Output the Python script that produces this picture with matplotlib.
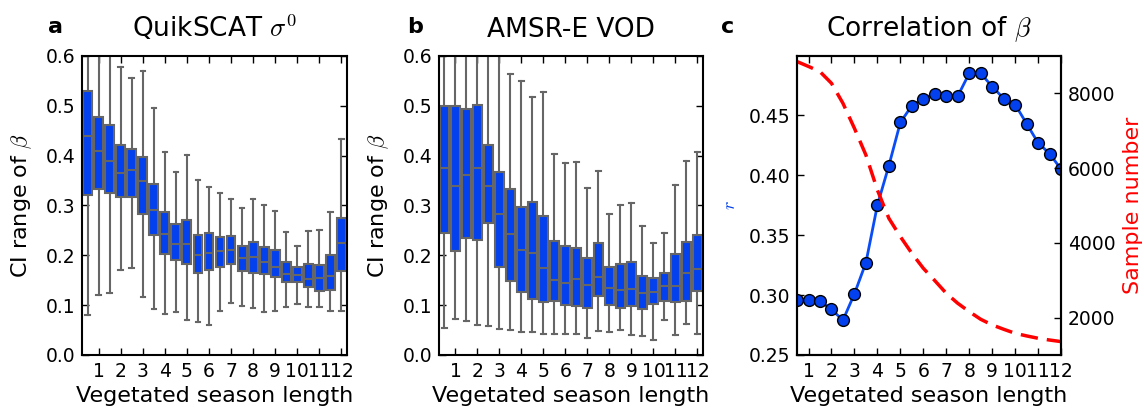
import matplotlib
matplotlib.use("Agg")
import matplotlib.pyplot as plt

# -------------------------
# DATA
# -------------------------
season_len = [0.5, 1.0, 1.5, 2.0, 2.5, 3.0, 3.5, 4.0, 4.5, 5.0, 5.5, 6.0,
              6.5, 7.0, 7.5, 8.0, 8.5, 9.0, 9.5, 10.0, 10.5, 11.0, 11.5, 12.0]
tick_pos = [1, 2, 3, 4, 5, 6, 7, 8, 9, 10, 11, 12]
tick_labels = ["1", "2", "3", "4", "5", "6", "7", "8", "9", "10", "11", "12"]

# panel a: QuikSCAT sigma0 CI range of beta
qs_lo = [0.080, 0.120, 0.125, 0.170, 0.175, 0.117, 0.093, 0.083, 0.087, 0.070, 0.067, 0.060,
         0.088, 0.105, 0.099, 0.094, 0.086, 0.088, 0.097, 0.102, 0.096, 0.097, 0.088, 0.088]
qs_q1 = [0.322, 0.333, 0.325, 0.318, 0.318, 0.282, 0.240, 0.203, 0.191, 0.182, 0.165, 0.170,
         0.177, 0.183, 0.169, 0.165, 0.162, 0.156, 0.147, 0.146, 0.136, 0.129, 0.131, 0.168]
qs_med = [0.440, 0.410, 0.390, 0.366, 0.372, 0.349, 0.290, 0.243, 0.222, 0.223, 0.200, 0.205,
          0.208, 0.210, 0.195, 0.196, 0.186, 0.176, 0.163, 0.160, 0.152, 0.154, 0.158, 0.225]
qs_q3 = [0.530, 0.478, 0.462, 0.422, 0.414, 0.398, 0.343, 0.287, 0.262, 0.271, 0.241, 0.244,
         0.236, 0.238, 0.219, 0.226, 0.217, 0.211, 0.187, 0.176, 0.183, 0.180, 0.201, 0.275]
qs_hi = [0.750, 0.680, 0.650, 0.577, 0.555, 0.570, 0.495, 0.408, 0.368, 0.402, 0.352, 0.338,
         0.325, 0.312, 0.294, 0.312, 0.300, 0.288, 0.246, 0.218, 0.248, 0.250, 0.287, 0.433]

# panel b: AMSR-E VOD CI range of beta
vod_lo = [0.055, 0.073, 0.068, 0.061, 0.059, 0.053, 0.050, 0.046, 0.047, 0.042, 0.042, 0.042,
          0.042, 0.034, 0.048, 0.047, 0.050, 0.040, 0.039, 0.031, 0.070, 0.040, 0.062, 0.043]
vod_q1 = [0.245, 0.208, 0.235, 0.230, 0.265, 0.176, 0.148, 0.127, 0.113, 0.106, 0.108, 0.101,
          0.099, 0.095, 0.118, 0.100, 0.094, 0.098, 0.093, 0.102, 0.108, 0.106, 0.108, 0.128]
vod_med = [0.376, 0.340, 0.362, 0.376, 0.340, 0.282, 0.242, 0.210, 0.204, 0.174, 0.150, 0.145,
           0.153, 0.141, 0.156, 0.135, 0.130, 0.132, 0.124, 0.126, 0.139, 0.138, 0.164, 0.172]
vod_q3 = [0.500, 0.500, 0.493, 0.502, 0.422, 0.368, 0.333, 0.297, 0.306, 0.278, 0.229, 0.218,
          0.215, 0.194, 0.224, 0.176, 0.182, 0.186, 0.159, 0.154, 0.164, 0.202, 0.226, 0.240]
vod_hi = [0.700, 0.680, 0.660, 0.680, 0.650, 0.620, 0.563, 0.550, 0.518, 0.527, 0.403, 0.385,
          0.387, 0.335, 0.370, 0.283, 0.300, 0.305, 0.258, 0.224, 0.244, 0.342, 0.390, 0.407]

# panel c: correlation r and sample number
corr_r = [0.296, 0.296, 0.295, 0.288, 0.279, 0.301, 0.327, 0.375, 0.408, 0.444, 0.458, 0.464,
          0.468, 0.466, 0.466, 0.485, 0.485, 0.474, 0.464, 0.459, 0.443, 0.427, 0.418, 0.405]
sample_n = [8850, 8720, 8580, 8270, 7734, 7065, 6350, 5415, 4657, 4167, 3721, 3320,
            2990, 2650, 2383, 2160, 1955, 1804, 1688, 1580, 1510, 1447, 1400, 1358]

BLUE = "#0341ee"
LINE_BLUE = "#0a4cf5"
GREY = "#666666"

plt.rcParams["font.family"] = "DejaVu Sans"
plt.rcParams["mathtext.fontset"] = "cm"
plt.rcParams["xtick.direction"] = "in"
plt.rcParams["ytick.direction"] = "in"
plt.rcParams["xtick.top"] = True
plt.rcParams["ytick.right"] = True
plt.rcParams["xtick.major.size"] = 5
plt.rcParams["ytick.major.size"] = 5
plt.rcParams["xtick.major.width"] = 1.0
plt.rcParams["ytick.major.width"] = 1.0
plt.rcParams["xtick.major.pad"] = 5
plt.rcParams["ytick.major.pad"] = 5
plt.rcParams["xtick.labelsize"] = 13.5
plt.rcParams["ytick.labelsize"] = 13.5
plt.rcParams["axes.linewidth"] = 1.5


def box_panel(ax, lo, q1, med, q3, hi, title):
    stats = []
    for i in range(len(season_len)):
        stats.append(dict(whislo=lo[i], q1=q1[i], med=med[i], q3=q3[i],
                          whishi=hi[i], fliers=[]))
    ax.bxp(stats, positions=season_len, widths=0.4, patch_artist=True,
           showfliers=False, manage_ticks=False,
           boxprops=dict(facecolor=BLUE, edgecolor=GREY, linewidth=1.5),
           whiskerprops=dict(color=GREY, linewidth=1.5),
           capprops=dict(color=GREY, linewidth=1.5),
           medianprops=dict(color=GREY, linewidth=1.5),
           capwidths=0.2)
    ax.set_xlim(0.25, 12.25)
    ax.set_ylim(0.0, 0.6)
    ax.set_xticks(tick_pos)
    ax.set_xticklabels(tick_labels)
    ax.set_yticks([0.0, 0.1, 0.2, 0.3, 0.4, 0.5, 0.6])
    ax.set_xlabel("Vegetated season length", fontsize=16, labelpad=4)
    ax.set_ylabel(r"CI range of $\beta$", fontsize=16, labelpad=8)
    ax.set_title(title, fontsize=19, pad=14)


fig = plt.figure(figsize=(11.44, 4.11), dpi=100)
ax_a = fig.add_axes([0.0717, 0.1363, 0.2316, 0.7275])
ax_b = fig.add_axes([0.3837, 0.1363, 0.2308, 0.7275])
ax_c = fig.add_axes([0.6967, 0.1363, 0.2308, 0.7275])

box_panel(ax_a, qs_lo, qs_q1, qs_med, qs_q3, qs_hi, r"QuikSCAT $\sigma^0$")
box_panel(ax_b, vod_lo, vod_q1, vod_med, vod_q3, vod_hi, "AMSR-E VOD")

# panel c
ax_c.plot(season_len, corr_r, "-o", color=LINE_BLUE, linewidth=2,
          markersize=8.5, markerfacecolor=BLUE, markeredgecolor="black", zorder=3)
ax_c.set_xlim(0.5, 12.0)
ax_c.set_ylim(0.25, 0.4995)
ax_c.set_xticks(tick_pos)
ax_c.set_xticklabels(tick_labels)
ax_c.set_yticks([0.25, 0.30, 0.35, 0.40, 0.45])
ax_c.set_yticklabels(["0.25", "0.30", "0.35", "0.40", "0.45"])
ax_c.tick_params(axis="y", right=False)
ax_c.set_xlabel("Vegetated season length", fontsize=16, labelpad=4)
ax_c.set_ylabel("$r$", color=BLUE, fontsize=13)
ax_c.yaxis.set_label_coords(-0.22, 0.5)
ax_c.set_title(r"Correlation of $\beta$", fontsize=19, pad=14)

ax_n = ax_c.twinx()
ax_n.plot(season_len, sample_n, "--", color="red", linewidth=2.5, dashes=(5, 2.6))
ax_n.set_ylim(1000, 9000)
ax_n.set_yticks([2000, 4000, 6000, 8000])
ax_n.tick_params(axis="y", direction="in", labelsize=13.5, pad=5)
ax_n.set_ylabel("Sample number", color="red", fontsize=16, labelpad=5)

fig.text(48 / 1144, 1 - 33 / 411, "a", fontsize=16, fontweight="bold", va="baseline")
fig.text(407 / 1144, 1 - 33 / 411, "b", fontsize=16, fontweight="bold", va="baseline")
fig.text(721 / 1144, 1 - 33 / 411, "c", fontsize=16, fontweight="bold", va="baseline")

fig.savefig("out.png", dpi=100)
